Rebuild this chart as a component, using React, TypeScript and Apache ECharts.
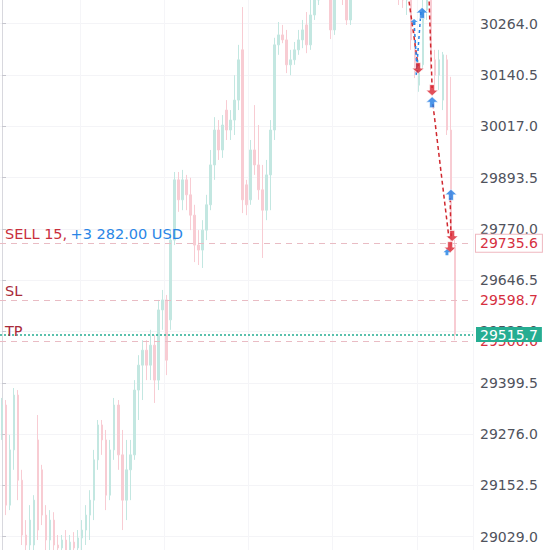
import React, { useEffect, useRef } from "react";
import * as echarts from "echarts";

// ---- data ----
const slotCount = 118;
const categories: string[] = Array.from({ length: slotCount }, (_, i) => String(i));

// [open, close, low, high]
const candles: number[][] = [
  [29286, 29346, 29262, 29363], [29346, 29105, 29081, 29358], [29105, 29238, 29093, 29274], [29238, 29370, 29190, 29387],
  [29370, 29165, 29117, 29382], [29165, 29033, 29009, 29190], [29033, 29009, 28973, 29069], [29009, 29069, 28985, 29105],
  [29009, 29117, 28985, 29129], [29262, 29045, 29021, 29322], [29190, 29081, 29057, 29202], [29081, 29021, 28985, 29105],
  [29021, 29069, 28973, 29093], [29069, 29009, 28985, 29088], [29009, 29002, 28961, 29033], [29002, 29021, 28949, 29033],
  [29021, 28997, 28961, 29045], [28997, 29016, 28961, 29033], [29016, 29002, 28973, 29040], [29002, 29026, 28978, 29045],
  [29026, 29045, 28992, 29069], [29045, 29081, 29009, 29105], [29081, 29117, 29021, 29141], [29117, 29214, 29069, 29238],
  [29214, 29298, 29190, 29310], [29298, 29262, 29226, 29310], [29262, 29129, 29093, 29286], [29129, 29238, 29117, 29262],
  [29238, 29346, 29214, 29363], [29346, 29226, 29190, 29358], [29226, 29117, 29045, 29286], [29117, 29190, 29069, 29262],
  [29190, 29226, 29117, 29262], [29226, 29382, 29214, 29406], [29382, 29442, 29310, 29466], [29442, 29478, 29358, 29502],
  [29478, 29442, 29406, 29502], [29442, 29490, 29406, 29527], [29490, 29406, 29351, 29515], [29406, 29575, 29382, 29599],
  [29575, 29599, 29527, 29623], [29599, 29454, 29418, 29611], [29551, 29743, 29527, 29767], [29743, 29888, 29731, 29907],
  [29888, 29840, 29811, 29907], [29840, 29888, 29815, 29912], [29888, 29852, 29815, 29900], [29852, 29803, 29767, 29893],
  [29803, 29731, 29690, 29828], [29731, 29719, 29683, 29767], [29719, 29767, 29676, 29791], [29767, 29828, 29743, 29852],
  [29828, 29924, 29815, 29960], [29924, 30008, 29888, 30039], [30008, 29960, 29936, 30032], [29960, 30020, 29941, 30044],
  [30056, 30008, 29984, 30080], [30008, 30032, 29984, 30056], [30032, 30080, 29996, 30140], [30080, 30177, 30056, 30213],
  [30201, 29840, 29808, 30304], [29876, 29828, 29803, 29888], [29840, 29960, 29828, 29984], [29960, 29924, 29900, 30068],
  [29924, 29864, 29840, 30020], [29864, 29815, 29700, 29924], [29815, 29900, 29791, 29936], [29900, 30008, 29815, 30032],
  [30008, 30213, 29984, 30230], [30213, 30237, 30189, 30268], [30237, 30225, 30217, 30261], [30225, 30165, 30145, 30249],
  [30165, 30177, 30140, 30201], [30177, 30201, 30165, 30220], [30201, 30225, 30189, 30249], [30225, 30249, 30205, 30273],
  [30261, 30213, 30193, 30292], [30213, 30285, 30201, 30321], [30285, 30321, 30273, 30357], [30321, 30369, 30309, 30393],
  [30369, 30393, 30345, 30429], [30393, 30369, 30333, 30429], [30369, 30249, 30227, 30393], [30249, 30345, 30237, 30369],
  [30345, 30393, 30321, 30417], [30393, 30333, 30309, 30417], [30333, 30273, 30261, 30345], [30273, 30369, 30261, 30393],
  [30369, 30417, 30345, 30441], [30417, 30465, 30393, 30490], [30465, 30514, 30441, 30538], [30514, 30490, 30465, 30550],
  [30490, 30538, 30465, 30562], [30538, 30502, 30477, 30562], [30502, 30465, 30441, 30526], [30465, 30490, 30429, 30514],
  [30490, 30441, 30417, 30514], [30441, 30393, 30369, 30465], [30393, 30417, 30357, 30441], [30417, 30333, 30309, 30441],
  [30333, 30321, 30302, 30369], [30321, 30345, 30285, 30381], [30345, 30225, 30201, 30369], [30225, 30152, 30133, 30249],
  [30116, 30165, 30100, 30177], [30165, 30297, 30152, 30333], [30297, 30333, 30273, 30357], [30333, 30177, 30152, 30345],
  [30177, 30140, 30116, 30201], [30140, 30177, 30104, 30201], [30080, 30189, 30056, 30196], [30177, 30008, 29996, 30189],
  [30008, 29731, 29719, 30136], [29731, 29515.7, 29502, 29743],
];

const yTicks = [29029.0, 29152.5, 29276.0, 29399.5, 29523.0, 29646.5, 29770.0, 29893.5, 30017.0, 30140.5, 30264.0];
const yMin = 28997;
const yMax = 30321;

const sellPrice = 29735.6;
const slPrice = 29598.7;
const tpPrice = 29500.6;
const lastPrice = 29515.7;
const sellText = "SELL 15,";
const profitText = "+3 282.00 USD";

// trade markers: [bar position, price]
const buyArrows: number[][] = [[104.8, 30290], [107.3, 30075], [112.0, 29852]];
const sellArrows: number[][] = [[103.8, 30157], [107.3, 30104], [112.3, 29753], [111.8, 29726]];
const smallBuyArrows: number[][] = [[102.8, 30268], [111.0, 29714]];

// dashed trade links
const sellLinks: number[][][] = [
  [[101.3, 30334], [103.8, 30162]],
  [[106.5, 30334], [107.3, 30109]],
  [[107.5, 30070], [111.5, 29748]],
  [[111.8, 29844], [112.0, 29753]],
];
const buyLinks: number[][][] = [
  [[104.5, 30292], [103.3, 30138]],
  [[102.8, 30268], [103.6, 30145]],
];

// ---- styles ----
const FONT = "DejaVu Sans";
const UP = "#c3e7e1";
const DOWN = "#f8ccd3";
const PINK_LINE = "#e9bcc4";
const RED = "#d6303f";
const DARK_RED = "#a82a3a";
const BLUE = "#2a86e6";
const GREEN = "#26ad92";
const ARROW_UP = "path://M6,0 L12,6 L8.5,6 L8.5,12 L3.5,12 L3.5,6 L0,6 Z";
const ARROW_DOWN = "path://M3.5,0 L8.5,0 L8.5,6 L12,6 L6,12 L0,6 L3.5,6 Z";

export default function App() {
  const ref = useRef<HTMLDivElement>(null);

  useEffect(() => {
    if (!ref.current) return;
    const chart = echarts.init(ref.current, undefined, { renderer: "svg" });

    const hiddenLine = { color: "rgba(255,255,255,0)", width: 0 };

    const leftLabel = (text: string, color: string) => ({
      show: true,
      position: "insideStartTop",
      distance: 2,
      padding: [0, 0, 0, 3],
      formatter: text,
      color,
      fontSize: 14.5,
      fontFamily: FONT,
    });

    const option: any = {
      animation: false,
      backgroundColor: "#ffffff",
      grid: { left: 0, right: 77, top: 0, bottom: 0 },
      xAxis: [
        {
          type: "category",
          data: categories,
          boundaryGap: true,
          axisLine: { show: false },
          axisTick: { show: false },
          axisLabel: { show: false },
          splitLine: {
            show: true,
            interval: (i: number) => i % 21 === 20,
            lineStyle: { color: "#f5f5f8", width: 1 },
          },
        },
        {
          type: "value",
          min: -0.5,
          max: slotCount - 0.5,
          show: false,
        },
      ],
      yAxis: {
        type: "value",
        position: "right",
        min: yMin,
        max: yMax,
        axisLine: { show: true, lineStyle: { color: "#d8d8de", width: 1 } },
        axisTick: { show: true, length: 4, customValues: yTicks, lineStyle: { color: "#c6c6ce" } },
        axisLabel: {
          customValues: yTicks,
          formatter: (v: number) => v.toFixed(1),
          color: "#50535d",
          fontSize: 14,
          fontFamily: FONT,
          margin: 7,
        },
        splitLine: { show: true, lineStyle: { color: "#f4f4f7", width: 1 } },
      },
      series: [
        {
          type: "candlestick",
          data: candles,
          barWidth: 2,
          silent: true,
          itemStyle: {
            color: UP,
            color0: DOWN,
            borderColor: UP,
            borderColor0: DOWN,
            borderWidth: 1,
          },
          markLine: {
            silent: true,
            symbol: ["none", "none"],
            animation: false,
            data: [
              {
                yAxis: sellPrice,
                lineStyle: { color: PINK_LINE, type: [6, 5], width: 1 },
                label: {
                  show: true,
                  position: "end",
                  distance: 3,
                  formatter: sellPrice.toFixed(1),
                  color: RED,
                  backgroundColor: "#ffffff",
                  borderColor: "#efb8c0",
                  borderWidth: 1,
                  padding: [2, 4, 1, 4],
                  fontSize: 14,
                  fontFamily: FONT,
                },
              },
              {
                yAxis: sellPrice,
                lineStyle: hiddenLine,
                label: {
                  show: true,
                  position: "insideStartTop",
                  distance: 2,
                  padding: [0, 0, 0, 3],
                  formatter: "{a|" + sellText + "} {b|" + profitText + "}",
                  rich: {
                    a: { color: "#c92f3c", fontSize: 14.5, fontFamily: FONT },
                    b: { color: BLUE, fontSize: 14.5, fontFamily: FONT },
                  },
                },
              },
              {
                yAxis: slPrice,
                lineStyle: { color: PINK_LINE, type: [6, 5], width: 1 },
                label: {
                  show: true,
                  position: "end",
                  distance: 7,
                  formatter: slPrice.toFixed(1),
                  color: RED,
                  fontSize: 14,
                  fontFamily: FONT,
                },
              },
              { yAxis: slPrice, lineStyle: hiddenLine, label: leftLabel("SL", DARK_RED) },
              {
                yAxis: tpPrice,
                lineStyle: { color: PINK_LINE, type: [6, 5], width: 1 },
                label: {
                  show: true,
                  position: "end",
                  distance: 7,
                  formatter: tpPrice.toFixed(1),
                  color: RED,
                  fontSize: 14,
                  fontFamily: FONT,
                },
              },
              { yAxis: tpPrice, lineStyle: hiddenLine, label: leftLabel("TP", DARK_RED) },
              {
                yAxis: lastPrice,
                lineStyle: { color: GREEN, type: [2, 2], width: 1.5 },
                label: {
                  show: true,
                  position: "end",
                  distance: 3,
                  formatter: lastPrice.toFixed(1),
                  color: "#ffffff",
                  backgroundColor: GREEN,
                  padding: [1, 4, 0, 4],
                  fontSize: 14,
                  fontFamily: FONT,
                },
              },
            ],
          },
        },
        ...sellLinks.map((seg) => ({
          type: "line",
          xAxisIndex: 1,
          data: seg,
          symbol: "none",
          silent: true,
          lineStyle: { color: "#d0282f", width: 1.5, type: [4, 3] },
        })),
        ...buyLinks.map((seg) => ({
          type: "line",
          xAxisIndex: 1,
          data: seg,
          symbol: "none",
          silent: true,
          lineStyle: { color: BLUE, width: 1.5, type: [3, 3] },
        })),
        {
          type: "scatter",
          xAxisIndex: 1,
          data: sellArrows,
          symbol: ARROW_DOWN,
          symbolSize: [12, 11],
          silent: true,
          itemStyle: { color: "#d9232f", borderColor: "#ffffff", borderWidth: 0.8 },
          z: 5,
        },
        {
          type: "scatter",
          xAxisIndex: 1,
          data: buyArrows,
          symbol: ARROW_UP,
          symbolSize: [12, 11],
          silent: true,
          itemStyle: { color: "#1f7be3", borderColor: "#ffffff", borderWidth: 0.8 },
          z: 5,
        },
        {
          type: "scatter",
          xAxisIndex: 1,
          data: smallBuyArrows,
          symbol: ARROW_UP,
          symbolSize: [7, 6],
          silent: true,
          itemStyle: { color: "#2a86e6", opacity: 0.85 },
          z: 5,
        },
      ],
    };

    chart.setOption(option);
    return () => chart.dispose();
  }, []);

  return (
    <div
      ref={ref}
      style={{ position: "fixed", left: 0, top: 0, width: 550, height: 550, background: "#fff" }}
    />
  );
}
